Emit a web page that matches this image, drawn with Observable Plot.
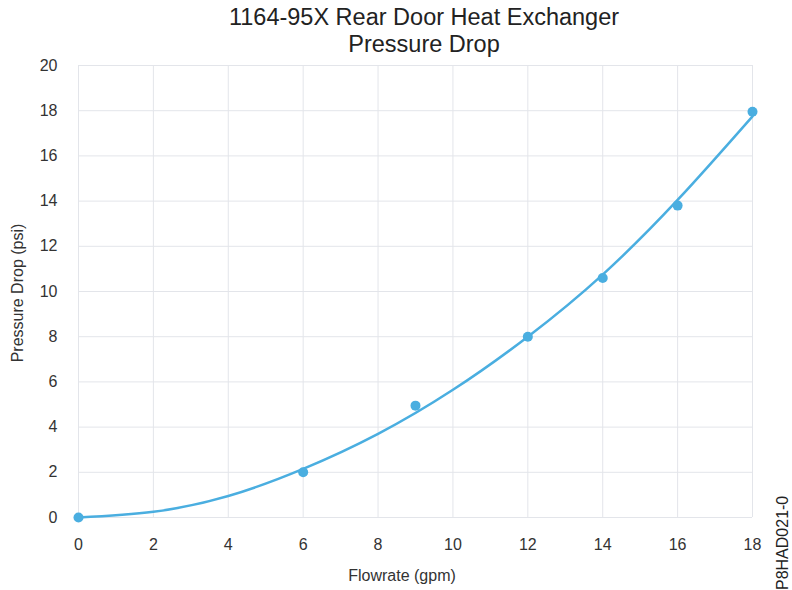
<!DOCTYPE html>
<html>
<head>
<meta charset="utf-8">
<script src="https://cdn.jsdelivr.net/npm/d3@7"></script>
<script src="https://cdn.jsdelivr.net/npm/@observablehq/plot@0.6"></script>
<style>
  html, body { margin: 0; padding: 0; background: #fff; }
  body { font-family: "Liberation Sans", Arial, sans-serif; }
  #wrap { position: relative; width: 792px; height: 590px; }
  .abs { position: absolute; color: #222; white-space: nowrap; }
  #title { left: 224px; top: 4px; width: 400px; text-align: center; font-size: 23.5px; line-height: 27px; }
  #xlabel { left: 302px; top: 567px; width: 200px; text-align: center; font-size: 16px; color: #333; }
  #ylabel { left: 18px; top: 293px; font-size: 16px; color: #333; transform: translate(-50%, -50%) rotate(-90deg); }
  #code { left: 783px; top: 590px; font-size: 16px; color: #222; transform-origin: 0 0; transform: rotate(-90deg) translate(0, -50%); }
</style>
</head>
<body>
<div id="wrap">
  <div id="chart"></div>
  <div id="title" class="abs">1164-95X Rear Door Heat Exchanger<br>Pressure Drop</div>
  <div id="xlabel" class="abs">Flowrate (gpm)</div>
  <div id="ylabel" class="abs">Pressure Drop (psi)</div>
  <div id="code" class="abs">P8HAD021-0</div>
</div>
<script>
// Measured points
const flowrate = [0, 6, 9, 12, 14, 16, 18];
const pressure = [0, 2.0, 4.95, 8.0, 10.6, 13.8, 17.95];

// Trendline
const curveX = [0, 2, 4, 6, 8, 10, 12, 14, 16, 18];
const curveY = [0, 0.25, 0.95, 2.15, 3.7, 5.65, 8.0, 10.75, 14.05, 17.75];

const xTicks = [0, 2, 4, 6, 8, 10, 12, 14, 16, 18];
const yTicks = [0, 2, 4, 6, 8, 10, 12, 14, 16, 18, 20];

const points = flowrate.map((x, i) => ({x, y: pressure[i]}));
const curve = curveX.map((x, i) => ({x, y: curveY[i]}));

const blue = "#4aaee0";
const grid = "#e3e5ea";

const chart = Plot.plot({
  width: 792,
  height: 590,
  marginTop: 65,
  marginBottom: 73,
  marginLeft: 78,
  marginRight: 40,
  style: { fontFamily: "Liberation Sans, Arial, sans-serif", fontSize: "16px", color: "#333", background: "#fff" },
  x: { domain: [0, 18], ticks: xTicks, label: null },
  y: { domain: [0, 20], ticks: yTicks, label: null },
  marks: [
    Plot.gridX(xTicks, { stroke: grid, strokeOpacity: 1, strokeWidth: 1 }),
    Plot.gridY(yTicks, { stroke: grid, strokeOpacity: 1, strokeWidth: 1 }),
    Plot.axisX(xTicks, { tickSize: 0, tickPadding: 21, fontSize: 16, fill: "#333", label: null }),
    Plot.axisY(yTicks, { tickSize: 0, tickPadding: 21, fontSize: 16, fill: "#333", label: null }),
    Plot.line(curve, { x: "x", y: "y", stroke: blue, strokeWidth: 2.5, curve: "natural" }),
    Plot.dot(points, { x: "x", y: "y", r: 5, fill: blue, stroke: "none" })
  ]
});
document.getElementById("chart").appendChild(chart);
</script>
</body>
</html>
